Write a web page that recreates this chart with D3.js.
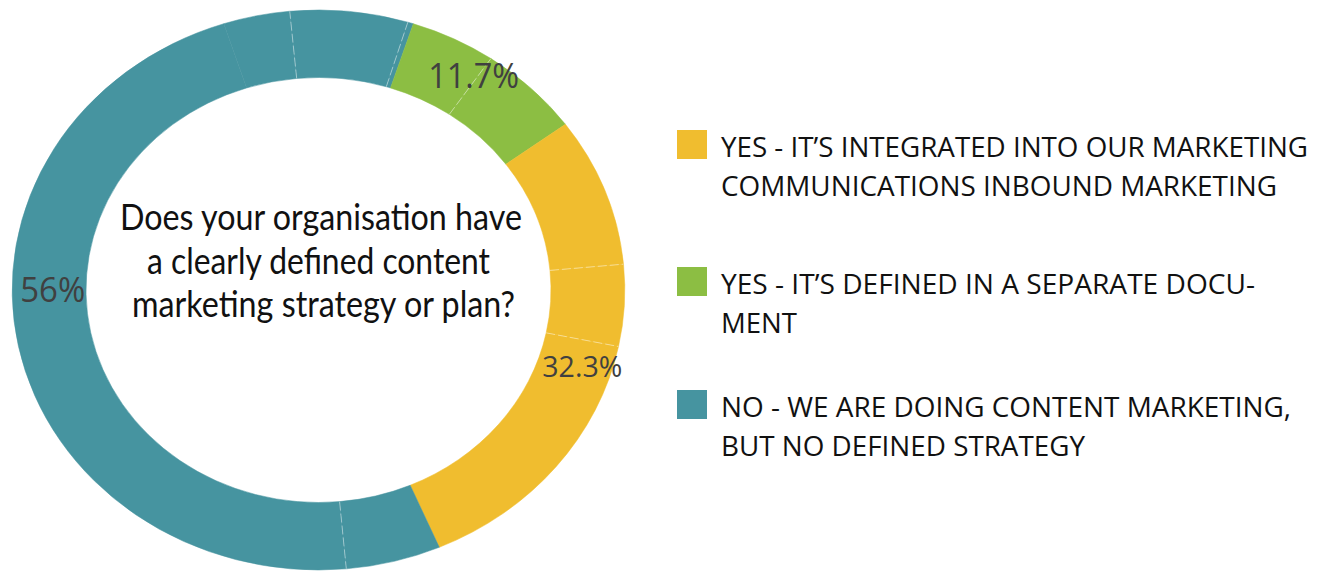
<!DOCTYPE html>
<html><head><meta charset="utf-8">
<script src="https://cdn.jsdelivr.net/npm/d3@7"></script>
<style>html,body{margin:0;padding:0;background:#fff;overflow:hidden}</style>
</head><body><svg id="chart" width="1329" height="571"></svg>
<script>
// ---- data ----
const categories = ["integrated", "separate", "none"];
const categoryLegend = [
  ["YES - IT’S INTEGRATED INTO OUR MARKETING", "COMMUNICATIONS INBOUND MARKETING"],
  ["YES - IT’S DEFINED IN A SEPARATE DOCU-", "MENT"],
  ["NO - WE ARE DOING CONTENT MARKETING,", "BUT NO DEFINED STRATEGY"]
];
const categoryValueLabels = ["32.3%", "11.7%", "56%"];
// ring segments, clockwise from the first teal sub-slice (share of the ring, %)
const segmentCategory = ["none", "none", "none", "separate", "separate", "integrated", "integrated", "integrated", "none", "none"];
const segmentShare = [3.5, 6.2, 0.3, 4.5, 5.4, 8.6, 4.7, 15.3, 5.0, 46.4];
const question = ["Does your organisation have", "a clearly defined content", "marketing strategy or plan?"];

// ---- layout / style ----
const colors = { integrated: "#F0BD2F", separate: "#8CBE43", none: "#4694A0" };
const cx = 318.5, cy = 290, sx = 1.094;
const R = 280, r = 212.5;
const startAngle = -18 * Math.PI / 180;
const labelLayout = {
  integrated: { angle: 107.6, rad: 253, size: 29, len: 80 },
  separate:   { angle: 33.5,  rad: 257, size: 34, len: 91 },
  none:       { angle: 270.1, rad: 243, size: 34, len: 65 }
};
const questionLayout = [
  { x: 321, y: 230, len: 402 },
  { x: 318.5, y: 273.5, len: 343 },
  { x: 323.5, y: 317, len: 383 }
];
const legendLayout = [
  { sq: 130, lines: [[157, 587], [196, 556]] },
  { sq: 267, lines: [[294, 534], [333, 76]] },
  { sq: 390, lines: [[417, 570], [456, 364]] }
];

const svg = d3.select("#chart");
const segments = segmentShare.map((v, i) => ({ value: v, cat: segmentCategory[i], i }));
const pie = d3.pie().sort(null).value(d => d.value)
  .startAngle(startAngle).endAngle(startAngle + 2 * Math.PI);
const arcs = pie(segments);
const arc = d3.arc().innerRadius(r).outerRadius(R);

const ring = svg.append("g").attr("transform", `translate(${cx},${cy}) scale(${sx},1)`);
ring.selectAll("path.seg").data(arcs).join("path")
  .attr("class", "seg")
  .attr("d", arc)
  .attr("fill", d => colors[d.data.cat])
  .attr("stroke", d => colors[d.data.cat])
  .attr("stroke-width", 0.5);

// faint separators between sub-slices of the same category
const seps = arcs.filter((d, i) => i > 0 && arcs[i - 1].data.cat === d.data.cat);
ring.selectAll("line.sep").data(seps).join("line")
  .attr("class", "sep")
  .attr("x1", d => r * Math.sin(d.startAngle))
  .attr("y1", d => -r * Math.cos(d.startAngle))
  .attr("x2", d => R * Math.sin(d.startAngle))
  .attr("y2", d => -R * Math.cos(d.startAngle))
  .attr("stroke", "#ffffff")
  .attr("stroke-opacity", 0.45)
  .attr("stroke-width", 1)
  .attr("stroke-dasharray", "9 3")
  .attr("vector-effect", "non-scaling-stroke");

// value labels
svg.selectAll("text.val").data(categories).join("text")
  .attr("class", "val")
  .attr("x", c => cx + sx * labelLayout[c].rad * Math.sin(labelLayout[c].angle * Math.PI / 180))
  .attr("y", c => cy - labelLayout[c].rad * Math.cos(labelLayout[c].angle * Math.PI / 180))
  .attr("dy", "0.36em")
  .attr("text-anchor", "middle")
  .attr("font-family", "'Open Sans', sans-serif")
  .attr("font-size", c => labelLayout[c].size)
  .attr("textLength", c => labelLayout[c].len)
  .attr("lengthAdjust", "spacingAndGlyphs")
  .attr("fill", "#404040")
  .text((c, i) => categoryValueLabels[i]);

// centre question
svg.selectAll("text.q").data(question).join("text")
  .attr("class", "q")
  .attr("x", (d, i) => questionLayout[i].x)
  .attr("y", (d, i) => questionLayout[i].y)
  .attr("text-anchor", "middle")
  .attr("font-family", "Lato, 'Open Sans', sans-serif")
  .attr("font-size", 36)
  .attr("textLength", (d, i) => questionLayout[i].len)
  .attr("lengthAdjust", "spacingAndGlyphs")
  .attr("fill", "#111")
  .text(d => d);

// legend
const leg = svg.selectAll("g.leg").data(categories).join("g").attr("class", "leg");
leg.append("rect")
  .attr("x", 677).attr("y", (c, i) => legendLayout[i].sq)
  .attr("width", 30).attr("height", 29)
  .attr("fill", c => colors[c]);
leg.each(function (c, i) {
  d3.select(this).selectAll("text").data(categoryLegend[i]).join("text")
    .attr("x", 721)
    .attr("y", (t, j) => legendLayout[i].lines[j][0])
    .attr("font-family", "'Open Sans', sans-serif")
    .attr("font-size", 27)
    .attr("textLength", (t, j) => legendLayout[i].lines[j][1])
    .attr("lengthAdjust", "spacingAndGlyphs")
    .attr("fill", "#111")
    .text(t => t);
});
</script></body></html>
